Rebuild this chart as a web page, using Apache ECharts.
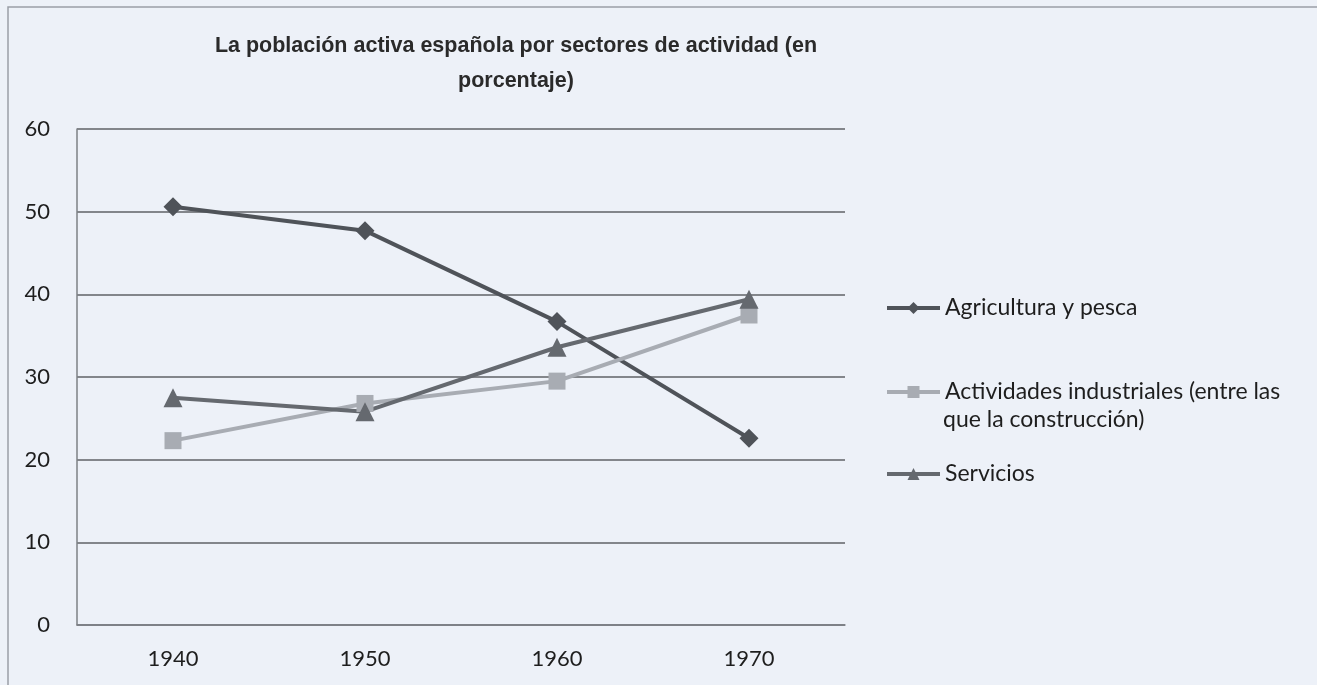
<!DOCTYPE html>
<html>
<head>
<meta charset="utf-8">
<script src="https://cdn.jsdelivr.net/npm/echarts@6/dist/echarts.min.js"></script>
<style>
html,body{margin:0;padding:0;background:#edf1f8;}
#chart{width:1317px;height:685px;}
</style>
</head>
<body>
<div id="chart"></div>
<script>
const titleText = 'La población activa española por sectores de actividad (en\nporcentaje)';
const categories = ['1940', '1950', '1960', '1970'];
const agricultura = [50.6, 47.7, 36.7, 22.6];
const industria = [22.3, 26.8, 29.5, 37.5];
const servicios = [27.5, 25.8, 33.6, 39.4];
const seriesNames = ['Agricultura y pesca', 'Actividades industriales (entre las que la construcción)', 'Servicios'];
const yTicks = [0, 10, 20, 30, 40, 50, 60];

const colors = ['#4f5359', '#a8acb3', '#65696f'];
const font = 'Lato, "Open Sans", sans-serif';

const chart = echarts.init(document.getElementById('chart'));
function mkSeries(name, data, color, symbol, size) {
  return {
    name: name, type: 'line', data: data,
    symbol: symbol, symbolSize: size,
    lineStyle: {color: color, width: 4},
    itemStyle: {color: color},
    animation: false
  };
}
const legendBase = {
  orient: 'vertical', left: 885, itemWidth: 53, itemHeight: 15, padding: 0,
  lineStyle: {width: 4},
  textStyle: {fontFamily: font, fontSize: 23, color: '#1e1e1e', lineHeight: 26},
  selectedMode: false
};
chart.setOption({
  backgroundColor: '#edf1f8',
  title: {
    text: titleText, left: 511, top: 24, textAlign: 'center',
    textStyle: {fontFamily: '"Liberation Sans", Arial, sans-serif', fontWeight: 'bold', fontSize: 21.5, color: '#2a2a2a', lineHeight: 35}
  },
  grid: {left: 77, right: 472, top: 129, bottom: 60},
  legend: [
    Object.assign({}, legendBase, {top: 295, data: [seriesNames[0]]}),
    Object.assign({}, legendBase, {top: 379, data: [seriesNames[1]], formatter: function(){ return 'Actividades industriales (entre las'; }}),
    Object.assign({}, legendBase, {top: 461, data: [seriesNames[2]]})
  ],
  graphic: [
    {type: 'rect', shape: {x: 8, y: 7, width: 1320, height: 700}, style: {fill: 'none', stroke: '#9a9ea6', lineWidth: 1.5}, silent: true},
    {type: 'text', left: 943, top: 408, style: {text: 'que la construcción)', fontFamily: font, fontSize: 23, fill: '#1e1e1e'}}
  ],
  xAxis: {
    type: 'category', data: categories, boundaryGap: true,
    axisLine: {lineStyle: {color: '#7d8086', width: 1.5}},
    axisTick: {show: false},
    axisLabel: {fontFamily: font, fontSize: 22, color: '#1e1e1e', margin: 23}
  },
  yAxis: {
    type: 'value', min: yTicks[0], max: yTicks[yTicks.length - 1], interval: 10,
    axisLine: {show: true, lineStyle: {color: '#7d8086', width: 1.5}},
    axisTick: {show: false},
    axisLabel: {fontFamily: font, fontSize: 22, color: '#1e1e1e', margin: 27},
    splitLine: {lineStyle: {color: '#5f6267', width: 1.5}}
  },
  series: [
    mkSeries(seriesNames[0], agricultura, colors[0], 'diamond', 19),
    mkSeries(seriesNames[1], industria, colors[1], 'rect', 17),
    mkSeries(seriesNames[2], servicios, colors[2], 'triangle', 19)
  ]
});
</script>
</body>
</html>
